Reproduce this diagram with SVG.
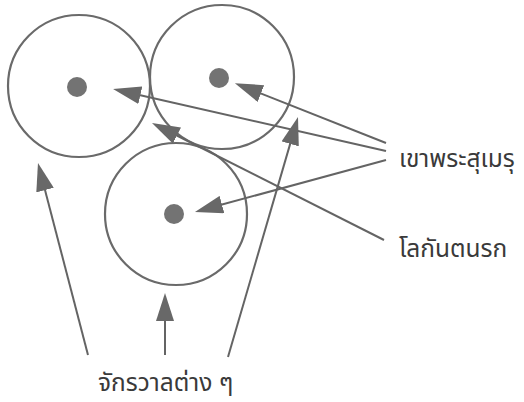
<svg xmlns="http://www.w3.org/2000/svg" width="524" height="402" viewBox="0 0 524 402">
<style>
.ring{fill:none;stroke:#6a6a6a;stroke-width:2.2}
.dot{fill:#737373}
.con{stroke:#646464;stroke-width:2;fill:none}
.lbl{font-family:"Noto Sans","Noto Sans Thai","DejaVu Sans",sans-serif;font-size:24.5px;fill:#3a3a3a}
</style>
<defs>
<marker id="ah" markerUnits="userSpaceOnUse" markerWidth="28" markerHeight="18" refX="18" refY="9" orient="auto" viewBox="0 0 28 18">
<path d="M0,0 L28,9 L0,18 z" fill="#686868"/>
</marker>
</defs>
<rect width="524" height="402" fill="#fff"/>
<g id="world1"><circle class="ring" cx="79" cy="86" r="71"/><circle class="dot" cx="77" cy="87" r="10"/></g>
<g id="world2"><circle class="ring" cx="222" cy="77" r="72"/><circle class="dot" cx="219" cy="78" r="10"/></g>
<g id="world3"><circle class="ring" cx="176" cy="214" r="71"/><circle class="dot" cx="174" cy="214" r="10"/></g>
<g id="connectors">
<line class="con" x1="386" y1="151" x2="122.8" y2="91.2" marker-end="url(#ah)"/>
<line class="con" x1="386" y1="143" x2="244.2" y2="86.9" marker-end="url(#ah)"/>
<line class="con" x1="386" y1="160" x2="204.6" y2="209.3" marker-end="url(#ah)"/>
<line class="con" x1="384" y1="240" x2="160.9" y2="127.5" marker-end="url(#ah)"/>
<line class="con" x1="88" y1="355" x2="40.5" y2="172.7" marker-end="url(#ah)"/>
<line class="con" x1="165" y1="355" x2="165" y2="303" marker-end="url(#ah)"/>
<line class="con" x1="228" y1="357" x2="295.2" y2="126.6" marker-end="url(#ah)"/>
</g>
<g id="label-meru"><text class="lbl" x="399" y="167">เขาพระสุเมรุ</text></g>
<g id="label-lokantanarok"><text class="lbl" x="399" y="257">โลกันตนรก</text></g>
<g id="label-chakrawan"><text class="lbl" x="98" y="391">จักรวาลต่าง ๆ</text></g>
</svg>
